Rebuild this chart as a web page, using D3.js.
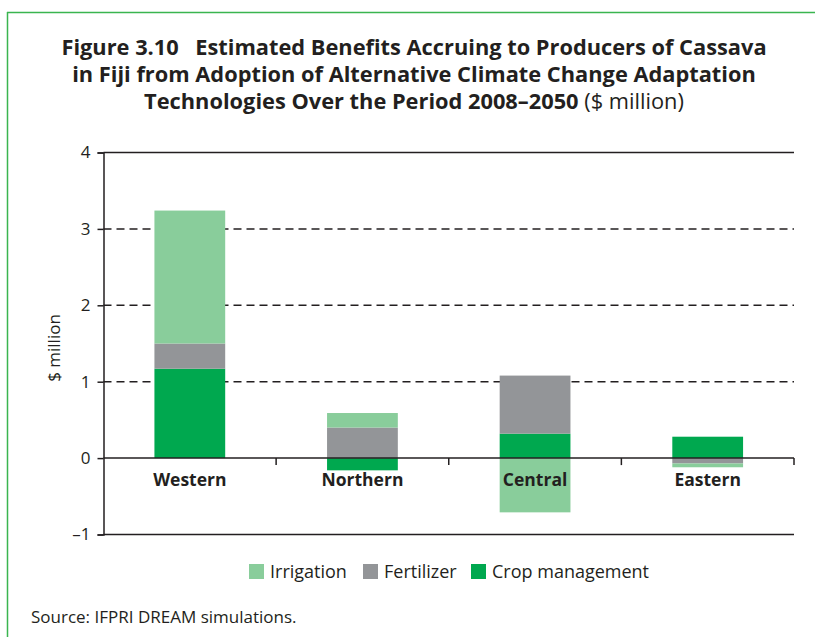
<!DOCTYPE html>
<html>
<head>
<meta charset="utf-8">
<script src="https://cdn.jsdelivr.net/npm/d3@7"></script>
<style>
  html, body { margin: 0; padding: 0; background: #fff; }
  svg { display: block; }
  text { font-family: "Open Sans", "Noto Sans", sans-serif; fill: #231f20; }
</style>
</head>
<body>
<svg id="chart" width="815" height="637"></svg>
<script>
// ---- data ----
const regions = ["Western", "Northern", "Central", "Eastern"];
const seriesNames = ["Crop management", "Fertilizer", "Irrigation"];
const cropManagement = [1.17, -0.16, 0.32, 0.28];
const fertilizer = [0.33, 0.40, 0.76, -0.07];
const irrigation = [1.74, 0.19, -0.71, -0.05];
const yTicks = [-1, 0, 1, 2, 3, 4];
const legendOrder = ["Irrigation", "Fertilizer", "Crop management"];
const titleLines = [
  [{t: "Figure 3.10\u2002 Estimated Benefits Accruing to Producers of Cassava", b: true}],
  [{t: "in Fiji from Adoption of Alternative Climate Change Adaptation", b: true}],
  [{t: "Technologies Over the Period 2008\u20132050", b: true}, {t: " ($ million)", b: false}]
];
const sourceText = "Source: IFPRI DREAM simulations.";
const yLabel = "$ million";

const colors = {
  "Irrigation": "#89cd9b",
  "Fertilizer": "#939598",
  "Crop management": "#00a84f"
};
const ink = "#231f20";

const rows = regions.map((r, i) => ({
  region: r,
  "Crop management": cropManagement[i],
  "Fertilizer": fertilizer[i],
  "Irrigation": irrigation[i]
}));

(function draw() {
const svg = d3.select("#chart");

// frame (green rule)
svg.append("line").attr("x1", 7).attr("x2", 815).attr("y1", 12.5).attr("y2", 12.5)
  .attr("stroke", "#3ab54f").attr("stroke-width", 1.5);
svg.append("line").attr("x1", 7.5).attr("x2", 7.5).attr("y1", 12).attr("y2", 637)
  .attr("stroke", "#3ab54f").attr("stroke-width", 1.5);

// title
const titleY = [55, 82, 109];
titleLines.forEach((parts, i) => {
  const t = svg.append("text").attr("x", 414).attr("y", titleY[i])
    .attr("text-anchor", "middle").style("font-size", "21.8px");
  parts.forEach(p => t.append("tspan").text(p.t).style("font-weight", p.b ? 700 : 400));
});

// scales
const pl = 103.5, pr = 794, pt = 152.5, pb = 534.5;
const x = d3.scaleBand().domain(regions).range([pl, pr]).padding(0);
const y = d3.scaleLinear().domain([-1, 4]).range([pb, pt]);
const barW = x.bandwidth() * 0.41;

// gridlines
const g = svg.append("g");
g.selectAll("line.grid").data(yTicks.filter(v => v > 0 && v < 4)).join("line")
  .attr("class", "grid")
  .attr("x1", pl).attr("x2", pr)
  .attr("y1", d => y(d)).attr("y2", d => y(d))
  .attr("stroke", ink).attr("stroke-width", 1.5).attr("stroke-dasharray", "8,5");
[4, -1].forEach(v => {
  g.append("line").attr("x1", pl).attr("x2", pr).attr("y1", y(v)).attr("y2", y(v))
    .attr("stroke", ink).attr("stroke-width", 1.5);
});

// stacked bars
const stack = d3.stack().keys(seriesNames).offset(d3.stackOffsetDiverging);
const stacked = stack(rows);
svg.append("g").selectAll("g").data(stacked).join("g")
  .attr("fill", d => colors[d.key])
  .selectAll("rect").data(d => d).join("rect")
  .attr("x", d => x(d.data.region) + (x.bandwidth() - barW) / 2)
  .attr("width", barW)
  .attr("y", d => y(Math.max(d[0], d[1])))
  .attr("height", d => Math.abs(y(d[0]) - y(d[1])));

// y axis
const yAxis = d3.axisLeft(y).tickValues(yTicks).tickSize(6).tickPadding(7)
  .tickFormat(d => d < 0 ? "\u2013" + Math.abs(d) : d);
const ya = svg.append("g").attr("transform", `translate(${pl},0)`).call(yAxis);
ya.select(".domain").attr("stroke", ink).attr("stroke-width", 1.5);
ya.selectAll(".tick line").attr("stroke", ink).attr("stroke-width", 1.5);
ya.selectAll(".tick text").style("font-size", "17px").style("font-family", "'Open Sans', sans-serif").attr("fill", ink);

// zero axis with ticks at band boundaries
const xAxis = d3.axisBottom(x).tickSize(0).tickPadding(15);
const xa = svg.append("g").attr("transform", `translate(0,${y(0)})`).call(xAxis);
xa.select(".domain").attr("stroke", ink).attr("stroke-width", 1.5).attr("d", `M${pl},0H${pr}`);
xa.selectAll(".tick text").style("font-size", "17.5px").style("font-weight", 700)
  .style("font-family", "'Open Sans', sans-serif").attr("fill", ink);
xa.selectAll("line.sep").data(regions.slice(1).concat(["end"])).join("line")
  .attr("class", "sep")
  .attr("x1", d => d === "end" ? pr : x(d)).attr("x2", d => d === "end" ? pr : x(d))
  .attr("y1", 0).attr("y2", 7).attr("stroke", ink).attr("stroke-width", 1.5);

// y label
svg.append("text").attr("transform", "translate(60,348) rotate(-90)")
  .attr("text-anchor", "middle").style("font-size", "17px").text(yLabel);

// legend
const legX = [249, 363, 471];
const lg = svg.append("g").selectAll("g").data(legendOrder).join("g")
  .attr("transform", (d, i) => `translate(${legX[i]},564)`);
lg.append("rect").attr("width", 15).attr("height", 15).attr("fill", d => colors[d]);
lg.append("text").attr("x", 21).attr("y", 14).style("font-size", "18px").text(d => d);

// source
svg.append("text").attr("x", 31).attr("y", 623).style("font-size", "17px").text(sourceText);
})();
</script>
</body>
</html>
